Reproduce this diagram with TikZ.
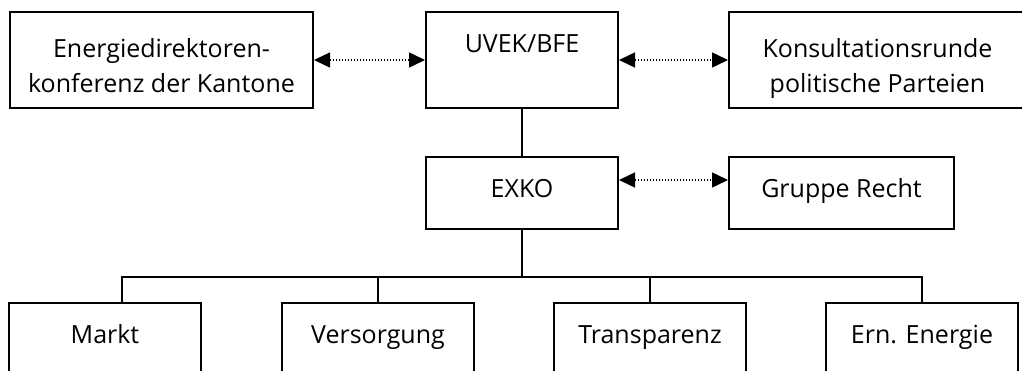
\documentclass[tikz,border=0pt]{standalone}
\usepackage{fontspec}
\setmainfont{Open Sans}
\usetikzlibrary{arrows.meta}

\newcommand{\orgfont}{\fontsize{25pt}{35pt}\selectfont}

\begin{document}
\begin{tikzpicture}[x=1pt,y=-1pt,line cap=rect,
    box/.style={draw, line width=2pt, align=center, inner sep=0pt, font=\orgfont, text height=40pt},
    topbox/.style={box, minimum width=#1, text depth=56pt},
    twobox/.style={box, minimum width=#1, text height=80pt, text depth=16pt},
    midbox/.style={box, minimum width=#1, text depth=32pt},
    workbox/.style={box, anchor=north, minimum width=192pt, text depth=80pt},
    link/.style={line width=2pt},
    peer/.style={line width=1.5pt, line cap=butt, dash pattern=on 1.5pt off 1.5pt,
        {Triangle[length=16pt,width=15pt]}-{Triangle[length=16pt,width=15pt]}}]
  \clip (0,0) rectangle (1022,370);
  % leitung
  \node[twobox=303pt] (edk) at (161.5,60) {Energiedirektoren-\\konferenz der Kantone};
  \node[topbox=192pt] (uvek) at (522,60) {UVEK/BFE};
  \node[twobox=297pt] (konsult) at (877.5,60) {Konsultationsrunde\\politische Parteien};
  \node[midbox=192pt] (exko) at (522,193) {EXKO};
  \node[midbox=225pt] (recht) at (841.5,193) {Gruppe Recht};
  % arbeitsgruppen
  \node[workbox] (markt) at (105,302) {Markt};
  \node[workbox] (versorgung) at (378,302) {Versorgung};
  \node[workbox] (transparenz) at (650,302) {Transparenz};
  \node[workbox] (ernenergie) at (922,302) {Ern. Energie};
  \coordinate (bus) at (522,277);
  \draw[peer] (edk.east) -- (uvek.west);
  \draw[peer] (uvek.east) -- (konsult.west);
  \draw[peer] ([yshift=13pt]exko.east) -- ([yshift=13pt]recht.west);
  \draw[link] (uvek.south) -- (exko.north);
  \draw[link] (exko.south) -- (bus);
  \draw[link] ([xshift=17pt]markt.north) |- (ernenergie.north |- bus) -- (ernenergie.north);
  \draw[link] (versorgung.north) -- (versorgung.north |- bus);
  \draw[link] (transparenz.north) -- (transparenz.north |- bus);
\end{tikzpicture}
\end{document}
